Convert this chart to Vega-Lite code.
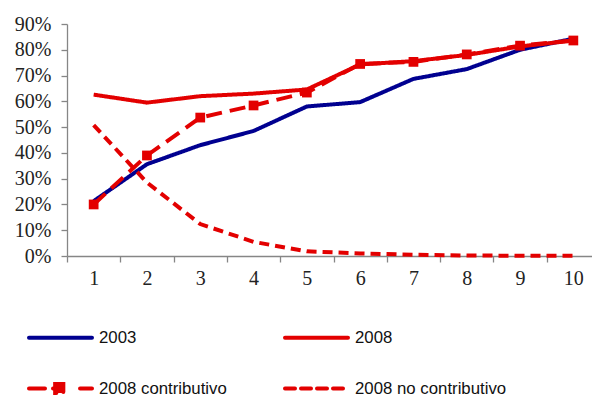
{
  "$schema": "https://vega.github.io/schema/vega-lite/v6.json",
  "width": 533,
  "height": 232,
  "autosize": "none",
  "padding": {"left": 67, "top": 24, "right": 0, "bottom": 140},
  "background": "white",
  "config": {
    "view": {"stroke": null},
    "axis": {
      "domainColor": "#868686",
      "tickColor": "#868686",
      "domainWidth": 1.3,
      "tickWidth": 1.3,
      "tickSize": 6,
      "labelFont": "Liberation Serif",
      "labelFontSize": 20,
      "labelColor": "#222222",
      "grid": false,
      "title": null
    }
  },
  "data": {
    "values": [
      {"d": 1, "serie": "2003", "v": 0.213},
      {"d": 2, "serie": "2003", "v": 0.356},
      {"d": 3, "serie": "2003", "v": 0.43},
      {"d": 4, "serie": "2003", "v": 0.485},
      {"d": 5, "serie": "2003", "v": 0.58},
      {"d": 6, "serie": "2003", "v": 0.597},
      {"d": 7, "serie": "2003", "v": 0.687},
      {"d": 8, "serie": "2003", "v": 0.725},
      {"d": 9, "serie": "2003", "v": 0.80},
      {"d": 10, "serie": "2003", "v": 0.843},
      {"d": 1, "serie": "2008", "v": 0.626},
      {"d": 2, "serie": "2008", "v": 0.595},
      {"d": 3, "serie": "2008", "v": 0.62},
      {"d": 4, "serie": "2008", "v": 0.63},
      {"d": 5, "serie": "2008", "v": 0.646},
      {"d": 6, "serie": "2008", "v": 0.743},
      {"d": 7, "serie": "2008", "v": 0.756},
      {"d": 8, "serie": "2008", "v": 0.78},
      {"d": 9, "serie": "2008", "v": 0.813},
      {"d": 10, "serie": "2008", "v": 0.836},
      {"d": 1, "serie": "2008 contributivo", "v": 0.20},
      {"d": 2, "serie": "2008 contributivo", "v": 0.39},
      {"d": 3, "serie": "2008 contributivo", "v": 0.537},
      {"d": 4, "serie": "2008 contributivo", "v": 0.584},
      {"d": 5, "serie": "2008 contributivo", "v": 0.634},
      {"d": 6, "serie": "2008 contributivo", "v": 0.745},
      {"d": 7, "serie": "2008 contributivo", "v": 0.753},
      {"d": 8, "serie": "2008 contributivo", "v": 0.782},
      {"d": 9, "serie": "2008 contributivo", "v": 0.816},
      {"d": 10, "serie": "2008 contributivo", "v": 0.836},
      {"d": 1, "serie": "2008 no contributivo", "v": 0.508},
      {"d": 2, "serie": "2008 no contributivo", "v": 0.285},
      {"d": 3, "serie": "2008 no contributivo", "v": 0.124},
      {"d": 4, "serie": "2008 no contributivo", "v": 0.055},
      {"d": 5, "serie": "2008 no contributivo", "v": 0.018},
      {"d": 6, "serie": "2008 no contributivo", "v": 0.010},
      {"d": 7, "serie": "2008 no contributivo", "v": 0.005},
      {"d": 8, "serie": "2008 no contributivo", "v": 0.002},
      {"d": 9, "serie": "2008 no contributivo", "v": 0.001},
      {"d": 10, "serie": "2008 no contributivo", "v": 0.001}
    ]
  },
  "encoding": {
    "x": {
      "field": "d",
      "type": "ordinal",
      "bandPosition": 0.5,
      "scale": {"type": "band", "paddingInner": 0, "paddingOuter": 0},
      "axis": {"tickBand": "extent", "labelAngle": 0, "labelPadding": 6}
    },
    "y": {
      "field": "v",
      "type": "quantitative",
      "scale": {"domain": [0, 0.9], "nice": false},
      "axis": {
        "values": [0, 0.1, 0.2, 0.3, 0.4, 0.5, 0.6, 0.7, 0.8, 0.9],
        "format": ".0%",
        "labelPadding": 10
      }
    }
  },
  "layer": [
    {
      "mark": {"type": "line", "strokeWidth": 4},
      "encoding": {
        "color": {
          "field": "serie",
          "type": "nominal",
          "scale": {
            "domain": ["2003", "2008", "2008 contributivo", "2008 no contributivo"],
            "range": ["#000090", "#E30000", "#E30000", "#E30000"]
          },
          "legend": {
            "orient": "none",
            "direction": "horizontal",
            "legendX": -40,
            "legendY": 280,
            "columns": 2,
            "title": null,
            "symbolType": "stroke",
            "symbolSize": 3969,
            "symbolStrokeWidth": 4,
            "labelFont": "Liberation Sans",
            "labelFontSize": 16.8,
            "labelColor": "#111111",
            "labelOffset": 5,
            "columnPadding": 50,
            "rowPadding": 8,
            "encode": {
              "symbols": {
                "update": {
                  "shape": {"signal": "datum.value === '2008 contributivo' ? 'M-1,0H-0.05M0.62,0H1M-0.17,-0.14H0.09V0.14H-0.17Z' : 'stroke'"},
                  "strokeDash": {"signal": "datum.value === '2008 no contributivo' ? [11, 6] : [1, 0]"},
                  "fill": {"signal": "datum.value === '2008 contributivo' ? '#E30000' : 'transparent'"},
                  "strokeCap": {"value": "round"}
                }
              }
            }
          }
        },
        "strokeDash": {
          "field": "serie",
          "type": "nominal",
          "scale": {
            "domain": ["2003", "2008", "2008 contributivo", "2008 no contributivo"],
            "range": [[1, 0], [1, 0], [16, 8], [10, 6]]
          },
          "legend": null
        }
      }
    },
    {
      "transform": [{"filter": "datum.serie === '2008 contributivo'"}],
      "mark": {"type": "point", "shape": "square", "filled": true, "size": 95, "color": "#E30000", "opacity": 1}
    }
  ]
}
